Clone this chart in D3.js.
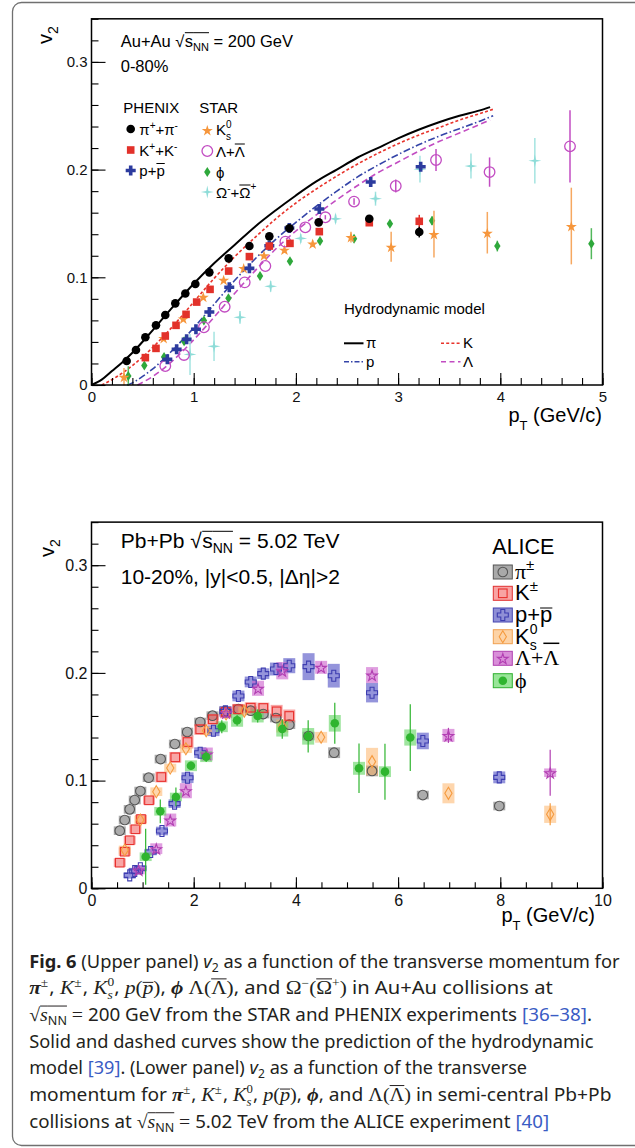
<!DOCTYPE html>
<html><head><meta charset="utf-8">
<script src="https://cdn.jsdelivr.net/npm/d3@7"></script>
<style>body{margin:0;background:#fff}svg{display:block}</style>
</head><body>
<svg id="fig" width="635" height="1148"></svg>
<script>
// ---------------- DATA: upper panel (Au+Au 200 GeV, 0-80%) ----------------
const topPiPt  = [0.344,0.435,0.527,0.631,0.722,0.82,0.918,1.016,1.153,1.342,1.545,1.74,1.936,2.223,2.718,3.207];
const topPiV2  = [0.0223,0.0325,0.0443,0.0554,0.065,0.0758,0.085,0.0938,0.1046,0.1176,0.129,0.138,0.1455,0.151,0.1544,0.142];
const topPiErr = [0,0,0,0,0,0,0,0,0,0,0,0,0,0,0.002,0.005];
const topKPt   = [0.527,0.631,0.722,0.827,0.925,1.029,1.16,1.342,1.545,1.74,1.942,2.229,2.718,3.207];
const topKV2   = [0.0254,0.034,0.0455,0.0554,0.0656,0.077,0.0888,0.1058,0.1192,0.129,0.1315,0.1424,0.1507,0.152];
const topKErr  = [0,0,0,0,0,0,0,0,0,0,0,0,0.002,0.006];
const topPPt   = [0.742,0.833,0.931,1.022,1.153,1.348,1.545,1.74,1.936,2.229,2.732,3.221];
const topPV2   = [0.0238,0.0331,0.0424,0.0517,0.0678,0.0907,0.1083,0.1293,0.1458,0.1634,0.1885,0.2027];
const topPErr  = [0,0,0,0,0,0,0,0,0,0,0.002,0.003];
const topK0Pt  = [0.318,0.706,0.898,1.094,1.293,1.489,1.688,1.888,2.164,2.539,2.932,3.351,3.873,4.695];
const topK0V2  = [0.0077,0.0437,0.0618,0.082,0.0978,0.1086,0.1204,0.1257,0.1313,0.1374,0.1284,0.1402,0.1414,0.1476];
const topK0Err = [0.008,0.002,0.002,0.002,0.002,0.002,0.002,0.003,0.003,0.005,0.014,0.0217,0.0193,0.0356];
const topLamPt = [0.722,0.905,1.1,1.303,1.499,1.701,1.897,2.092,2.288,2.569,2.977,3.371,3.895,4.682];
const topLamV2 = [0.0176,0.0279,0.0536,0.0727,0.0953,0.1105,0.1331,0.1464,0.1557,0.1703,0.1848,0.2089,0.1977,0.2216];
const topLamErr= [0,0,0,0,0,0,0,0,0.002,0.003,0.006,0.0102,0.0136,0.0335];
const topPhiPt = [0.36,0.517,0.71,0.906,1.1,1.34,1.649,1.942,2.236,2.569,2.92,3.332,3.971,4.891];
const topPhiV2 = [0.0084,0.018,0.026,0.0407,0.06,0.0806,0.1013,0.115,0.1337,0.1359,0.1497,0.1525,0.129,0.1312];
const topPhiErr= [0.009,0.002,0.003,0.002,0.002,0.002,0.002,0.002,0.002,0.003,0.003,0.004,0.005,0.0144];
const topOmPt  = [0.964,1.199,1.453,1.753,2.047,2.388,2.779,3.214,3.713,4.338];
const topOmV2  = [0.0284,0.0359,0.0628,0.0916,0.1361,0.1543,0.173,0.2004,0.2033,0.2082];
const topOmErr = [0.019,0.0135,0.006,0.005,0.004,0.004,0.0065,0.0124,0.0116,0.0212];
// hydrodynamic model curves
const hydroPiPt  = [0,0.1,0.2,0.3,0.4,0.6,0.8,1.0,1.2,1.4,1.6,1.8,2.0,2.2,2.4,2.6,2.8,3.0,3.2,3.4,3.6,3.8,3.9];
const hydroPiV2  = [0,0.005,0.013,0.021,0.030,0.051,0.073,0.094,0.113,0.130,0.147,0.162,0.176,0.189,0.200,0.211,0.220,0.229,0.237,0.244,0.250,0.255,0.258];
const hydroKPt   = [0.1,0.2,0.3,0.4,0.5,0.6,0.8,1.0,1.2,1.4,1.6,1.8,2.0,2.2,2.4,2.6,2.8,3.0,3.2,3.4,3.6,3.8,3.93];
const hydroKV2   = [0,0.005,0.011,0.018,0.026,0.035,0.055,0.077,0.099,0.119,0.137,0.154,0.169,0.182,0.194,0.205,0.215,0.224,0.232,0.239,0.246,0.252,0.256];
const hydroPPt   = [0.35,0.4,0.5,0.6,0.8,1.0,1.2,1.4,1.6,1.8,2.0,2.2,2.4,2.6,2.8,3.0,3.2,3.4,3.6,3.8,3.93];
const hydroPV2   = [0,0.002,0.008,0.015,0.033,0.053,0.075,0.097,0.117,0.135,0.151,0.166,0.180,0.193,0.204,0.214,0.223,0.231,0.238,0.245,0.250];
const hydroLamPt = [0.45,0.6,0.8,1.0,1.2,1.4,1.6,1.8,2.0,2.2,2.4,2.6,2.8,3.0,3.2,3.4,3.6,3.8,3.9];
const hydroLamV2 = [0,0.008,0.023,0.042,0.063,0.085,0.106,0.126,0.143,0.158,0.172,0.185,0.197,0.207,0.217,0.226,0.234,0.242,0.246];

// ---------------- DATA: lower panel (ALICE Pb+Pb 5.02 TeV, 10-20%) ----------------
const botPiPt  = [0.553,0.651,0.748,0.846,0.956,1.119,1.353,1.632,1.873,2.127,2.368,2.615,2.875,3.116,3.362,3.61,3.87,4.248,4.748,5.49,6.484,7.98];
const botPiV2  = [0.0535,0.0634,0.0733,0.082,0.0903,0.1027,0.12,0.134,0.1451,0.1544,0.1603,0.1646,0.1665,0.1649,0.1618,0.1581,0.1519,0.1414,0.1259,0.109,0.0866,0.0764];
const botPiSys = [0.004,0.004,0.004,0.004,0.004,0.004,0.004,0.004,0.004,0.004,0.004,0.004,0.004,0.004,0.004,0.004,0.004,0.004,0.005,0.005,0.004,0.004];
const botKPt   = [0.553,0.651,0.748,0.859,0.969,1.125,1.366,1.639,1.879,2.127,2.374,2.628,2.868,3.116,3.362,3.623,3.87];
const botKV2   = [0.0238,0.034,0.0446,0.0548,0.0643,0.0817,0.1033,0.1216,0.1358,0.1476,0.1569,0.1637,0.1662,0.1677,0.1674,0.1643,0.16];
const botKSys  = [0.004,0.004,0.004,0.004,0.004,0.004,0.005,0.005,0.006,0.005,0.005,0.005,0.005,0.005,0.005,0.006,0.006];
const botPPt   = [0.748,0.846,0.956,1.158,1.379,1.626,1.879,2.127,2.387,2.621,2.875,3.116,3.362,3.61,3.87,4.248,4.741,5.49,6.484,7.98];
const botPV2   = [0.012,0.016,0.0186,0.0337,0.0532,0.0786,0.1027,0.1259,0.1463,0.1643,0.1786,0.1916,0.1993,0.2036,0.2067,0.2058,0.1974,0.1816,0.1368,0.103];
const botPSys  = [0.003,0.003,0.003,0.003,0.004,0.004,0.005,0.005,0.005,0.005,0.005,0.005,0.005,0.006,0.007,0.0125,0.011,0.009,0.0077,0.0055];
const botK0Pt  = [0.651,0.956,1.268,1.541,1.847,2.244,2.634,2.99,3.733,4.494,5.49,6.985,8.976];
const botK0V2  = [0.0356,0.0634,0.0897,0.1117,0.1296,0.1463,0.1618,0.1645,0.1507,0.1402,0.1176,0.0882,0.0687];
const botK0Sys = [0.004,0.004,0.004,0.004,0.004,0.004,0.004,0.004,0.006,0.005,0.0128,0.0093,0.008];
const botK0Stat= [0,0,0,0,0,0,0,0,0,0,0,0,0.0102];
const botLamPt = [0.923,1.268,1.541,1.847,2.257,2.634,3.259,3.733,4.494,5.49,6.985,8.976];
const botLamV2 = [0.017,0.0368,0.0634,0.0906,0.1247,0.163,0.1857,0.202,0.2052,0.198,0.142,0.1073];
const botLamSys= [0.004,0.005,0.006,0.007,0.006,0.005,0.007,0.008,0.006,0.0074,0.006,0.004];
const botLamStat=[0,0,0,0,0,0,0,0,0,0,0.007,0.0213];
const botPhiPt = [1.06,1.346,1.652,1.946,2.244,2.55,2.849,3.252,3.733,4.24,4.761,5.235,5.743,6.238];
const botPhiV2 = [0.0293,0.0715,0.0848,0.1138,0.1222,0.15,0.156,0.16,0.1479,0.1411,0.1532,0.1114,0.1083,0.140];
const botPhiSys= [0.004,0.004,0.004,0.005,0.005,0.005,0.006,0.006,0.007,0.0077,0.0077,0.006,0.005,0.0075];
const botPhiStat=[0.026,0.011,0.0087,0.004,0.005,0.006,0.005,0.006,0.009,0.015,0.019,0.023,0.026,0.031];

// ticks
const topYTicks = [0,0.1,0.2,0.3];
const topXTicks = [0,1,2,3,4,5];
const botYTicks = [0,0.1,0.2,0.3];
const botXTicks = [0,2,4,6,8,10];

// ---------------- helpers ----------------
const SANS="'Liberation Sans', Arial, Helvetica, sans-serif";
const SERIF="'Liberation Serif','Times New Roman',serif";
const CAP="'Noto Sans','Open Sans',sans-serif";
const svg = d3.select("#fig");
svg.append("rect").attr("width",635).attr("height",1148).attr("fill","#fff");
svg.append("rect").attr("x",12.5).attr("y",2.5).attr("width",680).attr("height",1143)
  .attr("rx",9).attr("fill","none").attr("stroke","#707070").attr("stroke-width",1.3);

function rich(parent, x, y, segs, o) {
  o = o || {};
  const g = parent.append("g");
  let cx = 0, prevStart = 0;
  segs.forEach(s => {
    const size = s.s || o.s || 15;
    const sx = s.stack ? prevStart : cx;
    const col = s.c || o.c || "#000";
    const t = g.append("text").attr("x", sx).attr("y", s.dy || 0)
      .attr("font-family", s.f || o.f || SANS).attr("font-size", size)
      .attr("font-weight", s.w || o.w || "normal")
      .attr("font-style", s.i ? "italic" : "normal")
      .attr("fill", col).style("white-space","pre").text(s.t);
    const w = t.node().getComputedTextLength();
    if (s.ol !== undefined) g.append("line").attr("x1", sx + (s.olx||0)).attr("x2", sx + w + (s.olx2||0))
      .attr("y1", s.ol).attr("y2", s.ol).attr("stroke", col).attr("stroke-width", s.olw || o.olw || 1);
    if (s.stack) cx = Math.max(cx, sx + w);
    else { prevStart = sx; cx = sx + w; }
    cx += (s.k || 0);
  });
  const total = cx;
  const sc = o.width ? o.width / total : 1;
  let tr;
  if (o.rotate) tr = `translate(${x},${y}) rotate(${o.rotate})`;
  else {
    let tx = x;
    if (o.anchor === "end") tx = x - total*sc;
    if (o.anchor === "middle") tx = x - total*sc/2;
    tr = `translate(${tx},${y})` + (sc!==1 ? ` scale(${sc},1)` : "");
  }
  g.attr("transform", tr);
  return g;
}
const plusPath = (r,t)=>`M${-t},${-r}H${t}V${-t}H${r}V${t}H${t}V${r}H${-t}V${t}H${-r}V${-t}H${-t}Z`;
const diamondPath = (w,h)=>`M0,${-h}L${w},0L0,${h}L${-w},0Z`;
const sparklePath = (h,w)=>`M0,${-h}L${w},${-w}L${h},0L${w},${w}L0,${h}L${-w},${w}L${-h},0L${-w},${-w}Z`;
const starPath = R => d3.symbol(d3.symbolStar, R*R/0.8908130915292852)();

function marker(g, type, x, y, color, fill) {
  const f = fill ? color : "none", st = fill ? "none" : color;
  let el;
  if (type==="circle") el = g.append("circle").attr("cx",x).attr("cy",y).attr("r",fill?4.3:5.3);
  else if (type==="ocircle") el = g.append("circle").attr("cx",x).attr("cy",y).attr("r",4.8);
  else if (type==="square") el = g.append("rect").attr("x",x-3.8).attr("y",y-3.8).attr("width",7.6).attr("height",7.6);
  else if (type==="osquare") el = g.append("rect").attr("x",x-4.3).attr("y",y-4.3).attr("width",8.6).attr("height",8.6);
  else if (type==="plus") el = g.append("path").attr("d",plusPath(5,1.8)).attr("transform",`translate(${x},${y})`);
  else if (type==="oplus") el = g.append("path").attr("d",plusPath(5.5,2)).attr("transform",`translate(${x},${y})`);
  else if (type==="star") el = g.append("path").attr("d",starPath(5.8)).attr("transform",`translate(${x},${y+0.8})`);
  else if (type==="ostar") el = g.append("path").attr("d",starPath(5.6)).attr("transform",`translate(${x},${y+0.8})`);
  else if (type==="diamond") el = g.append("path").attr("d",diamondPath(3.2,5)).attr("transform",`translate(${x},${y})`);
  else if (type==="odiamond") el = g.append("path").attr("d",diamondPath(3.6,6)).attr("transform",`translate(${x},${y})`);
  else if (type==="sparkle") el = g.append("path").attr("d",sparklePath(6.5,1.1)).attr("transform",`translate(${x},${y})`);
  el.attr("fill", f).attr("stroke", st).attr("stroke-width", fill?0:1.1);
  return el;
}

function drawAxes(xs, ys, cfg) {
  const g = svg.append("g");
  const x0 = xs.range()[0], x1 = xs.range()[1], y0 = ys.range()[0], y1 = ys.range()[1];
  const yl = g.append("g").attr("transform",`translate(${x0},0)`);
  yl.call(d3.axisLeft(ys).tickValues(cfg.yMinor).tickSize(-7).tickFormat(""));
  yl.append("g").call(d3.axisLeft(ys).tickValues(cfg.yTicks).tickSize(-14).tickPadding(4)
    .tickFormat(d => d===0 ? "0" : d.toFixed(1)));
  const xl = g.append("g").attr("transform",`translate(0,${y0})`);
  xl.call(d3.axisBottom(xs).tickValues(cfg.xMinor).tickSize(-cfg.xMinLen).tickFormat(""));
  xl.append("g").call(d3.axisBottom(xs).tickValues(cfg.xTicks).tickSize(-cfg.xMajLen).tickPadding(cfg.xPad)
    .tickFormat(d => String(d)));
  g.selectAll(".domain").remove();
  g.selectAll(".tick line").attr("stroke","#000").attr("stroke-width",1.1);
  g.selectAll(".tick text").attr("font-family",SANS).attr("font-size",cfg.fs).attr("fill","#111");
  g.selectAll("g").attr("font-family",null).attr("font-size",null);
  g.append("rect").attr("x",x0).attr("y",y1).attr("width",x1-x0).attr("height",y0-y1)
    .attr("fill","none").attr("stroke","#000").attr("stroke-width",1.5);
}

// ================= UPPER PANEL =================
const xT = d3.scaleLinear([0,5],[91.5,602.5]);
const yT = d3.scaleLinear([0,0.34],[385,385-0.34*1077]);
const gT = svg.append("g");
const lineT = d3.line().x(d=>xT(d[0])).y(d=>yT(d[1])).curve(d3.curveMonotoneX);
const hydro = [
  {pt:hydroLamPt, v:hydroLamV2, c:"#c24cc2", dash:"6,3.5", w:1.6},
  {pt:hydroPPt,   v:hydroPV2,   c:"#3444a8", dash:"7,2.5,1.5,2.5", w:1.6},
  {pt:hydroKPt,   v:hydroKV2,   c:"#e8332b", dash:"3,2.2", w:1.6},
  {pt:hydroPiPt,  v:hydroPiV2,  c:"#000",    dash:null, w:2}
];
hydro.forEach(h => {
  gT.append("path").attr("d", lineT(h.pt.map((p,i)=>[p,h.v[i]]))).attr("fill","none")
    .attr("stroke",h.c).attr("stroke-width",h.w).attr("stroke-dasharray",h.dash);
});
const topSeries = [
  {pt:topOmPt,  v:topOmV2,  e:topOmErr,  c:"#8edcd8", ec:"#a4e4e1", mk:"sparkle", fill:true},
  {pt:topPhiPt, v:topPhiV2, e:topPhiErr, c:"#2ea83b", ec:"#52b85c", mk:"diamond", fill:true},
  {pt:topK0Pt,  v:topK0V2,  e:topK0Err,  c:"#f6963c", ec:"#f6a860", mk:"star", fill:true},
  {pt:topLamPt, v:topLamV2, e:topLamErr, c:"#c24cc2", ec:"#c24cc2", mk:"circle", fill:false},
  {pt:topPPt,   v:topPV2,   e:topPErr,   c:"#2c3b9e", ec:"#2c3b9e", mk:"plus", fill:true},
  {pt:topKPt,   v:topKV2,   e:topKErr,   c:"#e2312a", ec:"#e2312a", mk:"square", fill:true},
  {pt:topPiPt,  v:topPiV2,  e:topPiErr,  c:"#000",    ec:"#000",    mk:"circle", fill:true}
];
topSeries.forEach(s => {
  s.pt.forEach((p,i) => {
    if (s.e[i] > 0) gT.append("line").attr("x1",xT(p)).attr("x2",xT(p))
      .attr("y1",yT(s.v[i]-s.e[i])).attr("y2",yT(s.v[i]+s.e[i])).attr("stroke",s.ec).attr("stroke-width",1.5);
  });
  s.pt.forEach((p,i) => { marker(gT, s.mk, xT(p), yT(s.v[i]), s.c, s.fill).attr("stroke-width", s.fill?0:1.3); });
});
drawAxes(xT, yT, {yTicks:topYTicks, yMinor:d3.range(0,0.341,0.02), xTicks:topXTicks, xMinor:d3.range(0,5.01,0.2),
  xMajLen:12, xMinLen:7, xPad:6, fs:15});

// texts upper
rich(svg, 52, 44, [{t:"v",s:20},{t:"2",s:14,dy:6}], {rotate:-90});
rich(svg, 602, 421.5, [{t:"p",s:20},{t:"T",s:13,dy:8},{t:" (GeV/c)",s:20}], {anchor:"end"});
rich(svg, 120.7, 46.7, [{t:"Au+Au "},{t:"√",k:0.5},{t:"s",ol:-14},{t:"NN",s:11,dy:4,ol:-14},{t:" = 200 GeV"}], {s:16.5});
rich(svg, 120.7, 71.7, [{t:"0-80%"}], {s:16.5});
rich(svg, 123.3, 113.3, [{t:"PHENIX"}], {s:15});
rich(svg, 199.3, 113.3, [{t:"STAR"}], {s:15});
// PHENIX legend
marker(svg, "circle", 130.7, 129, "#000", true);
marker(svg, "square", 130.7, 150, "#e2312a", true);
marker(svg, "plus", 130.7, 170.5, "#2c3b9e", true);
rich(svg, 139.3, 134.5, [{t:"π"},{t:"+",s:10,dy:-6},{t:"+π"},{t:"-",s:10,dy:-6}], {s:15});
rich(svg, 139.3, 155.5, [{t:"K"},{t:"+",s:10,dy:-6},{t:"+K"},{t:"-",s:10,dy:-6}], {s:15});
rich(svg, 139.3, 176, [{t:"p+"},{t:"p",ol:-12.5}], {s:15});
// STAR legend
marker(svg, "star", 207.3, 130, "#f6963c", true);
marker(svg, "circle", 207.3, 151, "#c24cc2", false).attr("stroke-width",1.3);
marker(svg, "diamond", 207.3, 172, "#2ea83b", true);
marker(svg, "sparkle", 207.3, 192, "#8edcd8", true);
rich(svg, 216, 135, [{t:"K"},{t:"0",s:10,dy:-7.5},{t:"s",s:10,dy:5,stack:true}], {s:15});
rich(svg, 216, 156.5, [{t:"Λ+"},{t:"Λ",ol:-12.5}], {s:15});
rich(svg, 216, 177.5, [{t:"ϕ"}], {s:15});
rich(svg, 216, 197.5, [{t:"Ω"},{t:"-",s:10,dy:-6},{t:"+"},{t:"Ω",ol:-12.5},{t:"+",s:10,dy:-8}], {s:15});
// hydro legend
rich(svg, 344, 314.3, [{t:"Hydrodynamic model"}], {s:15});
const hleg = [
  {x:344, y:343.3, c:"#000", dash:null, lab:"π", w:2},
  {x:441, y:343.3, c:"#e8332b", dash:"3,2.2", lab:"K", w:1.6},
  {x:344, y:361.7, c:"#3444a8", dash:"5,2,1.5,2", lab:"p", w:1.6},
  {x:441, y:361.7, c:"#c24cc2", dash:"5,3.5", lab:"Λ", w:1.6}
];
hleg.forEach(h => {
  svg.append("line").attr("x1",h.x).attr("x2",h.x+19.5).attr("y1",h.y).attr("y2",h.y)
    .attr("stroke",h.c).attr("stroke-width",h.w).attr("stroke-dasharray",h.dash);
  rich(svg, h.x+22, h.y+5, [{t:h.lab}], {s:15});
});

// ================= LOWER PANEL =================
const xB = d3.scaleLinear([0,10],[91.5,602.5]);
const yB = d3.scaleLinear([0,0.34],[888.3,888.3-0.34*1077]);
const gB = svg.append("g");
const botSeries = [
  {pt:botPiPt,  v:botPiV2,  sys:botPiSys,  stat:null,       bf:"#7f7f7f", bo:0.65, c:"#555",    mk:"ocircle", fill:false},
  {pt:botKPt,   v:botKV2,   sys:botKSys,   stat:null,       bf:"#f25c5c", bo:0.55, c:"#e8302d", mk:"osquare", fill:false},
  {pt:botPPt,   v:botPV2,   sys:botPSys,   stat:null,       bf:"#5a5ac8", bo:0.65, c:"#3d3db0", mk:"oplus",   fill:false},
  {pt:botK0Pt,  v:botK0V2,  sys:botK0Sys,  stat:botK0Stat,  bf:"#fdb56a", bo:0.55, c:"#f59a3e", mk:"odiamond",fill:false},
  {pt:botLamPt, v:botLamV2, sys:botLamSys, stat:botLamStat, bf:"#cc5fcc", bo:0.6,  c:"#b23fb2", mk:"ostar",   fill:false},
  {pt:botPhiPt, v:botPhiV2, sys:botPhiSys, stat:botPhiStat, bf:"#5fd35f", bo:0.6,  c:"#2fb52f", mk:"circle",  fill:true}
];
const BW = 12;
botSeries.forEach(s => s.pt.forEach((p,i) => {
  gB.append("rect").attr("x",xB(p)-BW/2).attr("width",BW)
    .attr("y",yB(s.v[i]+s.sys[i])).attr("height",yB(s.v[i]-s.sys[i])-yB(s.v[i]+s.sys[i]))
    .attr("fill",s.bf).attr("fill-opacity",s.bo);
}));
botSeries.forEach(s => {
  if (s.stat) s.pt.forEach((p,i) => {
    if (s.stat[i] > 0) gB.append("line").attr("x1",xB(p)).attr("x2",xB(p))
      .attr("y1",yB(s.v[i]-s.stat[i])).attr("y2",yB(s.v[i]+s.stat[i])).attr("stroke",s.c).attr("stroke-width",1.2);
  });
  s.pt.forEach((p,i) => marker(gB, s.mk, xB(p), yB(s.v[i]), s.c, s.fill));
});
drawAxes(xB, yB, {yTicks:botYTicks, yMinor:d3.range(0,0.341,0.02), xTicks:botXTicks, xMinor:d3.range(0,10.01,0.5),
  xMajLen:11, xMinLen:6, xPad:6, fs:16});

rich(svg, 54, 557, [{t:"v",s:20},{t:"2",s:14,dy:6}], {rotate:-90});
rich(svg, 595, 921.5, [{t:"p",s:20},{t:"T",s:13,dy:8},{t:" (GeV/c)",s:20}], {anchor:"end"});
rich(svg, 120.7, 548.3, [{t:"Pb+Pb "},{t:"√",k:0.5},{t:"s",ol:-17},{t:"NN",s:14,dy:5,ol:-17},{t:" = 5.02 TeV"}], {s:21});
rich(svg, 120.7, 584, [{t:"10-20%, |y|<0.5, |Δη|>2"}], {s:21});
rich(svg, 492.3, 554.3, [{t:"ALICE"}], {s:21.5});
const legRows = [572,593.3,615,636.7,658.3,680.7];
const legLabels = [
  [{t:"π",f:SERIF},{t:"±",s:15,dy:-9}],
  [{t:"K"},{t:"±",s:15,dy:-9}],
  [{t:"p+"},{t:"p",ol:-14}],
  [{t:"K"},{t:"0",s:14,dy:-9.5},{t:"s",s:14,dy:6,stack:true}],
  [{t:"Λ+",f:SERIF},{t:"Λ",f:SERIF,ol:-22,olw:1.5}],
  [{t:"ϕ",f:SERIF}]
];
const legStroke = ["#555","#e03030","#4545b0","#f0a050","#b040b0","#30b030"];
const legFill = ["#a9a9a9","#f8a3a3","#8f8fd6","#fdd3a6","#d98ed9","#98e598"];
botSeries.forEach((s,i) => {
  const cy = legRows[i];
  svg.append("rect").attr("x",493.3).attr("y",cy-7).attr("width",19).attr("height",14)
    .attr("fill",legFill[i]).attr("stroke",legStroke[i]).attr("stroke-width",1);
  marker(svg, s.mk, 502.8, cy, s.c, s.fill);
  rich(svg, 515, cy+7, legLabels[i], {s:22});
});

// ================= CAPTION =================
const CS = 18, MS = 18, SUP = 12;
const mPiPM = [{t:"π",f:SERIF,i:true,w:"bold",s:MS+1},{t:"±",f:SERIF,s:SUP,dy:-7,k:1}];
const mKPM = [{t:"K",f:SERIF,i:true,s:MS+1},{t:"±",f:SERIF,s:SUP,dy:-7,k:1}];
const mK0 = [{t:"K",f:SERIF,i:true,s:MS+1},{t:"0",f:SERIF,s:SUP,dy:-8},{t:"s",f:SERIF,i:true,s:SUP,dy:5,stack:true}];
const mPP = [{t:"p",f:SERIF,i:true,s:MS+1},{t:"(",f:SERIF,s:MS+1},{t:"p",f:SERIF,i:true,s:MS+1,ol:-12},{t:")",f:SERIF,s:MS+1}];
const mPhi = [{t:"ϕ",f:SERIF,i:true,w:"bold",s:MS+1}];
const mLam = [{t:"Λ",f:SERIF,s:MS+1},{t:"(",f:SERIF,s:MS+1},{t:"Λ",f:SERIF,s:MS+1,ol:-15.5},{t:")",f:SERIF,s:MS+1}];
const mOm = [{t:"Ω",f:SERIF,s:MS+1},{t:"−",f:SERIF,s:SUP,dy:-7},{t:"(",f:SERIF,s:MS+1},{t:"Ω",f:SERIF,s:MS+1,ol:-15.5},{t:"+",f:SERIF,s:SUP,dy:-7},{t:")",f:SERIF,s:MS+1}];
const mSqrt = [{t:"√",f:SERIF,s:MS+1},{t:"s",f:SERIF,i:true,s:MS+1,ol:-15},{t:"NN",s:SUP,dy:4,ol:-15}];
const T = t => ({t});
const LINK = "#3a5cc4";
const capLines = [
  {w:590.5, segs:[{t:"Fig. 6",w:"bold"},T(" (Upper panel) "),{t:"v",i:true},{t:"2",s:SUP,dy:4},T(" as a function of the transverse momentum for")]},
  {w:523.6, segs:[...mPiPM,T(", "),...mKPM,T(", "),...mK0,T(", "),...mPP,T(", "),...mPhi,T(" "),...mLam,T(", and "),...mOm,T(" in Au+Au collisions at")]},
  {w:562.8, segs:[...mSqrt,T(" "),{t:"=",f:SERIF,s:MS+1},T(" 200 GeV from the STAR and PHENIX experiments "),{t:"[36–38]",c:LINK},T(".")]},
  {w:564.5, segs:[T("Solid and dashed curves show the prediction of the hydrodynamic")]},
  {w:498.1, segs:[T("model "),{t:"[39]",c:LINK},T(". (Lower panel) "),{t:"v",i:true},{t:"2",s:SUP,dy:4},T(" as a function of the transverse")]},
  {w:582.4, segs:[T("momentum for "),...mPiPM,T(", "),...mKPM,T(", "),...mK0,T(", "),...mPP,T(", "),...mPhi,T(", and "),...mLam,T(" in semi-central Pb+Pb")]},
  {w:520.0, segs:[T("collisions at "),...mSqrt,T(" "),{t:"=",f:SERIF,s:MS+1},T(" 5.02 TeV from the ALICE experiment "),{t:"[40]",c:LINK}]}
];
capLines.forEach((l,i) => rich(svg, 29.2, 967.7 + i*26.67, l.segs, {s:CS, f:CAP, c:"#231f20", width:l.w}));
</script>
</body></html>
